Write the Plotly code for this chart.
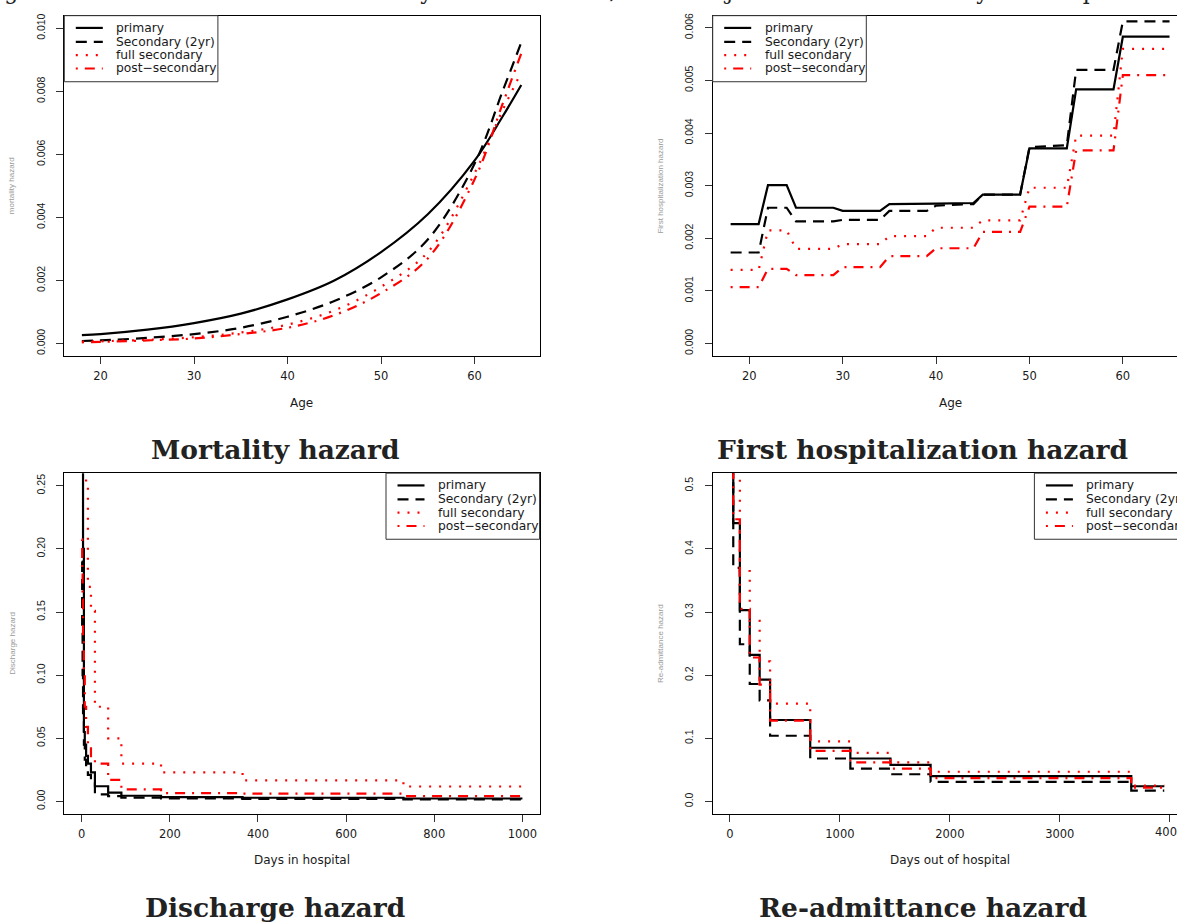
import plotly.graph_objects as go

W, H = 1177, 923

groups = ["primary", "Secondary (2yr)", "full secondary", "post\u2212secondary"]

# Mortality hazard by age
mort_age = [18, 20, 25, 30, 35, 40, 45, 50, 55, 60, 63, 65]
mort_primary = [0.00027, 0.00030, 0.00044, 0.00065, 0.00095, 0.00140, 0.00200, 0.00290, 0.00410, 0.00580, 0.00720, 0.00820]
mort_sec2 = [0.00008, 0.00010, 0.00018, 0.00030, 0.00050, 0.00085, 0.00135, 0.00210, 0.00330, 0.00570, 0.00800, 0.00955]
mort_fullsec = [0.00006, 0.00007, 0.00012, 0.00020, 0.00035, 0.00060, 0.00105, 0.00180, 0.00290, 0.00540, 0.00740, 0.00860]
mort_postsec = [0.00004, 0.00005, 0.00010, 0.00016, 0.00030, 0.00050, 0.00090, 0.00160, 0.00270, 0.00520, 0.00760, 0.00920]

# First hospitalization hazard by age
hosp_age = [18, 21, 22, 24, 25, 29, 30, 34, 35, 39, 40, 44, 45, 49, 50, 54, 55, 59, 60, 65]
hosp_primary = [0.00227, 0.00227, 0.00301, 0.00301, 0.00258, 0.00258, 0.00252, 0.00252, 0.00265, 0.00265, 0.00266, 0.00267,
                0.00283, 0.00283, 0.00371, 0.00371, 0.00483, 0.00483, 0.00583, 0.00583]
hosp_sec2 = [0.00173, 0.00173, 0.00258, 0.00258, 0.00232, 0.00232, 0.00235, 0.00235, 0.00252, 0.00252, 0.00262, 0.00265,
             0.00283, 0.00283, 0.00373, 0.00377, 0.00520, 0.00520, 0.00612, 0.00612]
hosp_fullsec = [0.00140, 0.00140, 0.00215, 0.00215, 0.00180, 0.00180, 0.00189, 0.00189, 0.00204, 0.00204, 0.00220, 0.00220,
                0.00234, 0.00234, 0.00296, 0.00296, 0.00395, 0.00395, 0.00560, 0.00560]
hosp_postsec = [0.00107, 0.00107, 0.00142, 0.00142, 0.00130, 0.00130, 0.00145, 0.00145, 0.00166, 0.00166, 0.00181, 0.00181,
                0.00212, 0.00212, 0.00260, 0.00260, 0.00367, 0.00367, 0.00510, 0.00510]

# Discharge hazard by days in hospital (step values)
dis_days = [0, 1, 2, 3, 5, 7, 10, 14, 21, 30, 60, 90, 180, 365, 730, 1000]
dis_primary = [0.60, 0.45, 0.32, 0.20, 0.055, 0.045, 0.036, 0.030, 0.023, 0.012, 0.0069, 0.0045, 0.0034, 0.0029, 0.0023, 0.0023]
dis_sec2 = [0.19, 0.14, 0.10, 0.070, 0.045, 0.033, 0.025, 0.021, 0.017, 0.0055, 0.0042, 0.0030, 0.0024, 0.0020, 0.0016, 0.0016]
dis_fullsec = [0.60, 0.55, 0.50, 0.45, 0.40, 0.32, 0.25, 0.17, 0.151, 0.075, 0.050, 0.030, 0.023, 0.0166, 0.0118, 0.0118]
dis_postsec = [0.2075, 0.185, 0.16, 0.13, 0.10, 0.075, 0.059, 0.045, 0.033, 0.030, 0.017, 0.0095, 0.0066, 0.0061, 0.0042, 0.0042]

# Re-admittance hazard by days out of hospital (step values)
re_days = [0, 30, 90, 180, 270, 365, 730, 1095, 1460, 1825, 3650, 3950]
re_primary = [0.70, 0.441, 0.303, 0.232, 0.193, 0.129, 0.085, 0.068, 0.058, 0.040, 0.024, 0.024]
re_sec2 = [0.70, 0.370, 0.249, 0.186, 0.160, 0.104, 0.068, 0.052, 0.043, 0.031, 0.017, 0.017]
re_fullsec = [0.70, 0.510, 0.365, 0.286, 0.222, 0.155, 0.095, 0.077, 0.062, 0.047, 0.025, 0.025]
re_postsec = [0.70, 0.447, 0.305, 0.228, 0.185, 0.128, 0.080, 0.062, 0.052, 0.037, 0.022, 0.022]

styles = [dict(color="black", dash="solid"),
          dict(color="black", dash="11px,7px"),
          dict(color="red", dash="2px,8px"),
          dict(color="red", dash="2px,7px,10px,7px")]


def X(p):
    return p / W


def Y(p):
    return 1 - p / H


# plot boxes in pixels: left, right, top, bottom
boxes = {1: (64.3, 539.6, 12.7, 354.3), 2: (712.7, 1188.0, 12.7, 354.3),
         3: (64.3, 539.6, 471.7, 813.3), 4: (712.7, 1188.0, 471.7, 813.3)}

panels = [
    dict(n=1, x=mort_age, ys=[mort_primary, mort_sec2, mort_fullsec, mort_postsec], shape="spline",
         xr=[16.12, 66.96], yr=[-0.0004, 0.0104], xt=[20, 30, 40, 50, 60],
         yt=[0, 0.002, 0.004, 0.006, 0.008, 0.010], yfmt=".3f",
         xtitle="Age", ytitle="mortality hazard", caption="Mortality hazard", leg="left"),
    dict(n=2, x=hosp_age, ys=[hosp_primary, hosp_sec2, hosp_fullsec, hosp_postsec], shape="linear",
         xr=[16.08, 65.8], yr=[-0.00024, 0.00623], xt=[20, 30, 40, 50, 60],
         yt=[0, 0.001, 0.002, 0.003, 0.004, 0.005, 0.006], yfmt=".3f",
         xtitle="Age", ytitle="First hospitalization hazard", caption="First hospitalization hazard", leg="left"),
    dict(n=3, x=dis_days, ys=[dis_primary, dis_sec2, dis_fullsec, dis_postsec], shape="hv",
         xr=[-39.5, 1039], yr=[-0.0097, 0.26], xt=[0, 200, 400, 600, 800, 1000],
         yt=[0, 0.05, 0.10, 0.15, 0.20, 0.25], yfmt=".2f",
         xtitle="Days in hospital", ytitle="Discharge hazard", caption="Discharge hazard", leg="right"),
    dict(n=4, x=re_days, ys=[re_primary, re_sec2, re_fullsec, re_postsec], shape="hv",
         xr=[-157, 4066], yr=[-0.0194, 0.52], xt=[0, 1000, 2000, 3000, 4000],
         yt=[0, 0.1, 0.2, 0.3, 0.4, 0.5], yfmt=".1f",
         xtitle="Days out of hospital", ytitle="Re-admittance hazard", caption="Re-admittance hazard", leg="right"),
]

fig = go.Figure()
shapes = []
annotations = []
layout = {}
tick_font = dict(family="DejaVu Sans", size=11.5, color="#1a1a1a")

for p in panels:
    n = p["n"]
    l, r, t, b = boxes[n]
    sfx = "" if n == 1 else str(n)
    for vals, st, name in zip(p["ys"], styles, groups):
        fig.add_trace(go.Scatter(x=p["x"], y=vals, mode="lines", name=name, showlegend=False,
                                 line=dict(color=st["color"], dash=st["dash"], width=2.2, shape=p["shape"]),
                                 xaxis="x" + sfx, yaxis="y" + sfx))
    right_cut = r > W
    layout["xaxis" + sfx] = dict(
        domain=[X(l), min(X(r), 1.0)], range=p["xr"], tickvals=p["xt"], anchor="y" + sfx,
        ticks="outside", ticklen=7, tickwidth=1, tickcolor="#333",
        showline=True, linecolor="black", linewidth=1.3, mirror=True,
        showgrid=False, zeroline=False, ticklabelstandoff=2, tickfont=tick_font)
    layout["yaxis" + sfx] = dict(
        domain=[Y(b), Y(t)], range=p["yr"], tickvals=p["yt"], tickformat=p["yfmt"], anchor="x" + sfx,
        ticks="outside", ticklen=7, tickwidth=1, tickcolor="#333",
        showline=True, linecolor="black", linewidth=1.3, mirror=not right_cut,
        showgrid=False, zeroline=False, tickangle=-90, ticklabelstandoff=7,
        tickfont=dict(family="Liberation Sans", size=10.5, color="#1a1a1a"))

    cx = (l + r) / 2
    annotations.append(dict(text=p["xtitle"], x=X(cx), y=Y(401 if n < 3 else 860), xref="paper", yref="paper",
                            showarrow=False, xanchor="center", yanchor="middle",
                            font=dict(family="DejaVu Sans", size=12, color="#1a1a1a")))
    annotations.append(dict(text=p["ytitle"], x=X(l - 52), y=Y((t + b) / 2), xref="paper", yref="paper",
                            showarrow=False, textangle=-90, xanchor="center", yanchor="middle",
                            font=dict(family="Liberation Sans", size=8, color="#9a9a9a")))
    cap_x = 275 if n in (1, 3) else 923
    annotations.append(dict(text=p["caption"], x=X(cap_x), y=Y(448 if n < 3 else 907), xref="paper", yref="paper",
                            showarrow=False, xanchor="center", yanchor="middle",
                            font=dict(family="DejaVu Serif", size=26.5, color="#222", weight="bold")))

    # legend box in the R style
    lw, lh = 153.6, 66.3
    lx0 = l if p["leg"] == "left" else r - lw
    ly0 = t
    shapes.append(dict(type="rect", xref="paper", yref="paper", x0=X(lx0), x1=X(lx0 + lw), y0=Y(ly0), y1=Y(ly0 + lh),
                       line=dict(color="#333", width=1), fillcolor="white", layer="above"))
    for k, (name, st) in enumerate(zip(groups, styles)):
        ry = ly0 + [12.3, 26.3, 39.6, 53.0][k]
        shapes.append(dict(type="line", xref="paper", yref="paper", x0=X(lx0 + 11.5), x1=X(lx0 + 38.5),
                           y0=Y(ry), y1=Y(ry), line=dict(color=st["color"], dash=st["dash"], width=2.2), layer="above"))
        annotations.append(dict(text=name, x=X(lx0 + 50), y=Y(ry), xref="paper", yref="paper", showarrow=False,
                                xanchor="left", yanchor="middle",
                                font=dict(family="DejaVu Sans", size=12.3, color="#1a1a1a")))

# last tick label of the re-admittance axis runs past the page edge
annotations.append(dict(text="4000", x=4000, xref="x4", y=Y(832), yref="paper", showarrow=False,
                        xanchor="center", yanchor="middle", font=tick_font))

# figure caption cut off by the top edge
annotations.append(dict(text="Figure 3: Estimated baseline hazards by education level, from the joint model of mortality and hospitalization",
                        x=X(-20), y=Y(-12), xref="paper", yref="paper", showarrow=False, xanchor="left",
                        yanchor="middle", font=dict(family="DejaVu Serif", size=22, color="#222")))

fig.update_layout(**layout)
fig.update_layout(width=W, height=H, margin=dict(l=0, r=0, t=0, b=0), plot_bgcolor="white",
                  paper_bgcolor="white", showlegend=False, shapes=shapes, annotations=annotations)

fig.write_html("out.html", config={"displayModeBar": False},
               post_script="document.body.style.margin = '0';")
